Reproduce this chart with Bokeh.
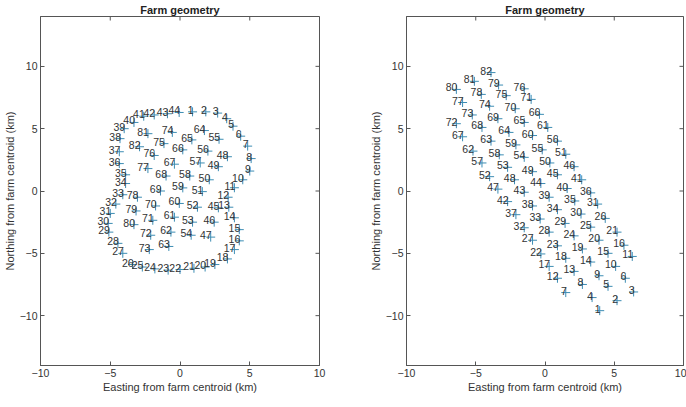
from bokeh.plotting import figure
from bokeh.layouts import row
from bokeh.models import ColumnDataSource, FixedTicker
from bokeh.core.properties import value
from bokeh.embed import file_html
from bokeh.resources import INLINE

# Left panel: farm layout (ring arrangement), points 1..82
left_ids = list(range(1, 83))
left_x = [0.9, 1.85, 2.7, 3.35, 3.8, 4.35, 4.85, 5.1, 5.0, 4.5,
          3.9, 3.45, 3.5, 3.9, 4.25, 4.25, 3.9, 3.4, 2.5, 1.8,
          1.0, 0.0, -0.85, -1.8, -2.7, -3.4, -4.1, -4.45, -5.1, -5.15,
          -5.0, -4.6, -4.1, -3.9, -3.9, -4.35, -4.35, -4.3, -4.0, -3.3,
          -2.6, -1.85, -0.9, -0.06, 2.75, 2.45, 2.2, 3.4, 2.75, 2.1,
          1.6, 1.25, 0.9, 0.8, 2.8, 2.0, 1.45, 0.7, 0.2, -0.05,
          -0.4, -0.65, -0.8, 1.75, 0.85, 0.2, -0.4, -1.0, -1.4, -1.75,
          -1.95, -2.1, -2.2, -0.55, -1.15, -1.85, -2.3, -3.05, -3.15, -3.3,
          -2.3, -2.9]
left_y = [6.35, 6.35, 6.25, 5.8, 5.2, 4.4, 3.6, 2.6, 1.6, 0.9,
          0.26, -0.5, -1.3, -2.15, -3.1, -4.0, -4.7, -5.45, -5.9, -6.1,
          -6.2, -6.3, -6.35, -6.25, -6.1, -5.9, -5.0, -4.2, -3.3, -2.6,
          -1.8, -1.05, -0.3, 0.6, 1.3, 2.2, 3.15, 4.2, 5.0, 5.5,
          6.0, 6.1, 6.2, 6.3, -1.35, -2.5, -3.7, 2.75, 1.95, 0.9,
          -0.05, -1.3, -2.5, -3.55, 4.15, 3.2, 2.25, 1.2, 0.25, -1.0,
          -2.1, -3.3, -4.45, 4.85, 4.1, 3.3, 2.15, 1.2, 0.0, -1.2,
          -2.35, -3.55, -4.7, 4.7, 3.8, 2.85, 1.8, -0.5, -1.6, -2.7,
          4.6, 3.55]

# Right panel: farm layout (rotated grid), points 1..82
right_ids = list(range(1, 83))
right_x = [3.95, 5.2, 6.4, 3.4, 4.55, 5.8, 1.5, 2.7, 3.9, 5.1,
           6.3, 0.9, 2.1, 3.3, 4.55, 5.7, 0.3, 1.5, 2.7, 3.9,
           5.2, -0.3, 0.9, 2.1, 3.3, 4.35, -0.9, 0.3, 1.45, 2.6,
           3.8, -1.5, -0.35, 0.9, 2.15, 3.3, -2.1, -0.9, 0.3, 1.6,
           2.65, -2.7, -1.5, -0.3, 0.9, 2.1, -3.4, -2.2, -0.9, 0.35,
           1.5, -4.0, -2.7, -1.5, -0.2, 0.9, -4.55, -3.3, -2.1, -0.9,
           0.2, -5.2, -3.9, -2.6, -1.5, -0.4, -5.95, -4.55, -3.4, -2.15,
           -1.0, -6.4, -5.25, -4.0, -2.8, -1.5, -5.95, -4.6, -3.35, -6.4,
           -5.1, -3.9]
right_y = [-9.6, -8.8, -8.1, -8.55, -7.65, -7.0, -8.15, -7.5, -6.8, -6.05,
           -5.25, -7.0, -6.45, -5.7, -5.0, -4.35, -6.05, -5.4, -4.65, -3.95,
           -3.3, -5.05, -4.4, -3.6, -2.9, -2.2, -3.95, -3.3, -2.6, -1.85,
           -1.05, -2.95, -2.25, -1.5, -0.8, -0.15, -1.9, -1.2, -0.5, 0.2,
           0.9, -0.85, -0.1, 0.6, 1.3, 1.95, 0.15, 0.9, 1.55, 2.25,
           2.95, 1.15, 1.9, 2.7, 3.3, 4.0, 2.25, 2.9, 3.7, 4.45,
           5.1, 3.2, 4.0, 4.7, 5.5, 6.15, 4.35, 5.1, 5.8, 6.6,
           7.35, 5.4, 6.1, 6.8, 7.65, 8.2, 7.1, 7.75, 8.5, 8.15,
           8.8, 9.5]

axis_ticks = [-10, -5, 0, 5, 10]
x_limits = (-10, 10)
y_limits = (-14, 14)
title_text = "Farm geometry"
xlabel = "Easting from farm centroid (km)"
ylabel = "Northing from farm centroid (km)"

FONT = "Liberation Sans"
MARKER_COLOR = "#3d8db3"
TEXT_COLOR = "#333333"
AXIS_COLOR = "#555555"


def style_axis(ax):
    ax.ticker = FixedTicker(ticks=axis_ticks)
    ax.major_tick_in = 4
    ax.major_tick_out = 0
    ax.minor_tick_line_color = None
    ax.axis_line_color = AXIS_COLOR
    ax.major_tick_line_color = AXIS_COLOR
    ax.major_label_text_font = FONT
    ax.major_label_text_color = TEXT_COLOR
    ax.major_label_text_font_size = "10.5px"
    ax.major_label_standoff = 3
    ax.axis_label_text_font = FONT
    ax.axis_label_text_font_size = "11px"
    ax.axis_label_text_font_style = "normal"
    ax.axis_label_text_color = TEXT_COLOR
    ax.axis_label_standoff = 1


def make_panel(ids, xs, ys, frame_w, border_left, border_right):
    src = ColumnDataSource(dict(x=xs, y=ys, lab=[str(i) for i in ids]))
    p = figure(frame_width=frame_w, frame_height=349,
               x_range=x_limits, y_range=y_limits,
               output_backend="svg", toolbar_location=None,
               min_border_left=border_left, min_border_right=border_right,
               min_border_top=16, min_border_bottom=26,
               title=title_text)
    p.title.text_font = FONT
    p.title.text_font_size = "11px"
    p.title.text_font_style = "bold"
    p.title.text_color = "#222222"
    p.title.align = "center"
    p.title.standoff = 2
    p.title.offset = 0

    # inward tick marks on the top and right edges of the box
    n = len(axis_ticks)
    p.scatter(axis_ticks, [y_limits[1]] * n, marker="dash", size=8,
              angle=1.5707963, line_color=AXIS_COLOR, line_width=1)
    p.scatter([x_limits[1]] * n, axis_ticks, marker="dash", size=8,
              line_color=AXIS_COLOR, line_width=1)

    p.scatter("x", "y", source=src, marker="cross", size=9,
              line_color=MARKER_COLOR, line_width=1)
    p.text("x", "y", text="lab", source=src,
           text_font=value(FONT), text_font_size="10.5px",
           text_color=TEXT_COLOR, text_align="right",
           text_baseline="bottom", x_offset=1, y_offset=2)

    p.xgrid.visible = False
    p.ygrid.visible = False
    p.outline_line_color = AXIS_COLOR
    p.outline_line_width = 1
    p.background_fill_color = "white"
    p.border_fill_color = "white"

    style_axis(p.xaxis[0])
    style_axis(p.yaxis[0])
    p.xaxis[0].axis_label = xlabel
    p.yaxis[0].axis_label = ylabel
    return p


p1 = make_panel(left_ids, left_x, left_y, 279, 35, 47)
p2 = make_panel(right_ids, right_x, right_y, 277, 35, 3)

layout = row(p1, p2, spacing=0)
open("out.html", "w").write(file_html(layout, INLINE))
